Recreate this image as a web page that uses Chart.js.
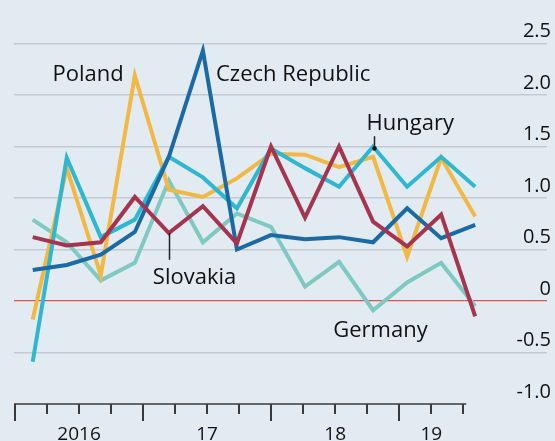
<!DOCTYPE html>
<html>
<head>
<meta charset="utf-8">
<script src="https://cdn.jsdelivr.net/npm/chart.js"></script>
<style>
html, body { margin: 0; padding: 0; background: #e3ebf2; }
canvas { display: block; }
</style>
</head>
<body>
<canvas id="myChart" width="555" height="441"></canvas>
<script>
// quarterly GDP growth, %, 2016 Q1 - 2019 Q2
var quarters = ['2016 Q1', '2016 Q2', '2016 Q3', '2016 Q4', '2017 Q1', '2017 Q2', '2017 Q3',
  '2017 Q4', '2018 Q1', '2018 Q2', '2018 Q3', '2018 Q4', '2019 Q1', '2019 Q2'];
var czech = [0.30, 0.35, 0.45, 0.67, 1.40, 2.43, 0.50, 0.64, 0.60, 0.62, 0.57, 0.90, 0.61, 0.74];
var poland = [-0.18, 1.29, 0.25, 2.19, 1.08, 1.01, 1.19, 1.43, 1.42, 1.30, 1.40, 0.43, 1.39, 0.82];
var hungary = [-0.59, 1.39, 0.62, 0.79, 1.40, 1.20, 0.90, 1.48, 1.29, 1.11, 1.50, 1.11, 1.40, 1.11];
var slovakia = [0.62, 0.54, 0.57, 1.01, 0.66, 0.92, 0.56, 1.50, 0.81, 1.50, 0.77, 0.53, 0.84, -0.15];
var germany = [0.79, 0.57, 0.20, 0.37, 1.17, 0.57, 0.85, 0.72, 0.14, 0.38, -0.09, 0.18, 0.37, -0.05];

// bottom axis: one tick per quarter, year labels
var yearLabels = ['2016', '17', '18', '19'];
var yearTicks = [2, 6, 10, 13];
var quarterTickCount = 15;

function pts(arr) {
  return arr.map(function (v, i) { return { x: i, y: v }; });
}

var notes = [
  { text: 'Poland', x: 0.58, y: 2.136 },
  { text: 'Czech Republic', x: 5.385, y: 2.136 },
  { text: 'Hungary', x: 9.81, y: 1.66, px: 10.02, y1: 1.60, y2: 1.48, dot: true },
  { text: 'Slovakia', x: 3.53, y: 0.165, px: 4.0, y1: 0.66, y2: 0.40 },
  { text: 'Germany', x: 8.83, y: -0.35 }
];

var decor = {
  id: 'decor',
  afterDraw: function (chart) {
    var ctx = chart.ctx;
    var xs = chart.scales.x;
    var xt = chart.scales.xt;
    var ys = chart.scales.y;
    var base = ys.getPixelForValue(-1);
    ctx.save();
    // baseline
    ctx.strokeStyle = '#3a3a3a';
    ctx.lineWidth = 1.5;
    ctx.beginPath();
    ctx.moveTo(xt.getPixelForValue(0) - 1, base);
    ctx.lineTo(xt.getPixelForValue(quarterTickCount - 1) + 3, base);
    ctx.stroke();
    // quarter ticks
    ctx.lineWidth = 2;
    for (var k = 0; k < quarterTickCount; k++) {
      var tx = Math.round(xt.getPixelForValue(k));
      ctx.beginPath();
      ctx.moveTo(tx, base);
      ctx.lineTo(tx, base + (k % 4 === 0 ? 17 : 10));
      ctx.stroke();
    }
    // labels
    ctx.fillStyle = '#111';
    ctx.font = '22px "Open Sans"';
    ctx.textAlign = 'left';
    ctx.textBaseline = 'alphabetic';
    notes.forEach(function (n) {
      ctx.fillText(n.text, xs.getPixelForValue(n.x), ys.getPixelForValue(n.y));
      if (n.px !== undefined) {
        var lx = Math.round(xs.getPixelForValue(n.px)) + 0.5;
        ctx.strokeStyle = '#222';
        ctx.lineWidth = 1.5;
        ctx.beginPath();
        ctx.moveTo(lx, ys.getPixelForValue(n.y1));
        ctx.lineTo(lx, ys.getPixelForValue(n.y2));
        ctx.stroke();
        if (n.dot) {
          ctx.beginPath();
          ctx.arc(lx, ys.getPixelForValue(n.y2), 2.2, 0, Math.PI * 2);
          ctx.fill();
        }
      }
    });
    ctx.restore();
  }
};

var line = function (label, arr, color) {
  return {
    label: label,
    data: pts(arr),
    borderColor: color,
    borderWidth: 4,
    pointRadius: 0,
    tension: 0,
    fill: false
  };
};

var canvas = document.getElementById('myChart');
var myChart = new Chart(canvas.getContext('2d'), {
  type: 'line',
  data: {
    datasets: [
      line('Slovakia', slovakia, '#a6344f'),
      line('Czech Republic', czech, '#1b6aa5'),
      line('Hungary', hungary, '#2db7d0'),
      line('Poland', poland, '#f1b843'),
      line('Germany', germany, '#7ecac2')
    ]
  },
  options: {
    responsive: false,
    animation: false,
    layout: { autoPadding: false, padding: { left: 14, top: 43.5, right: 0, bottom: -24 } },
    plugins: { legend: { display: false }, tooltip: { enabled: false } },
    scales: {
      x: {
        type: 'linear',
        display: false,
        min: -0.55,
        max: 15.11
      },
      xt: {
        type: 'linear',
        position: 'bottom',
        min: -0.031,
        max: 16.615,
        grid: { display: false, drawTicks: false },
        border: { display: false },
        afterBuildTicks: function (axis) {
          axis.ticks = yearTicks.map(function (v) { return { value: v }; });
        },
        ticks: {
          autoSkip: false,
          maxRotation: 0,
          padding: 21,
          color: '#111',
          font: { family: 'Open Sans', size: 19, lineHeight: 1 },
          callback: function (v) {
            var i = yearTicks.indexOf(v);
            return i < 0 ? '' : yearLabels[i];
          }
        }
      },
      y: {
        position: 'right',
        min: -1,
        max: 2.5,
        border: { display: false },
        grid: {
          drawTicks: false,
          color: function (c) {
            if (c.tick.value === 0) return '#d9534f';
            if (c.tick.value === -1) return 'rgba(0,0,0,0)';
            return '#c3cad1';
          },
          lineWidth: function (c) { return c.tick.value === 0 ? 1.2 : 1.5; }
        },
        ticks: {
          stepSize: 0.5,
          mirror: true,
          padding: 4,
          labelOffset: -12,
          color: '#111',
          font: { family: 'Open Sans', size: 20 },
          callback: function (v) { return v === 0 ? '0' : v.toFixed(1); }
        }
      }
    }
  },
  plugins: [decor]
});
</script>
</body>
</html>
